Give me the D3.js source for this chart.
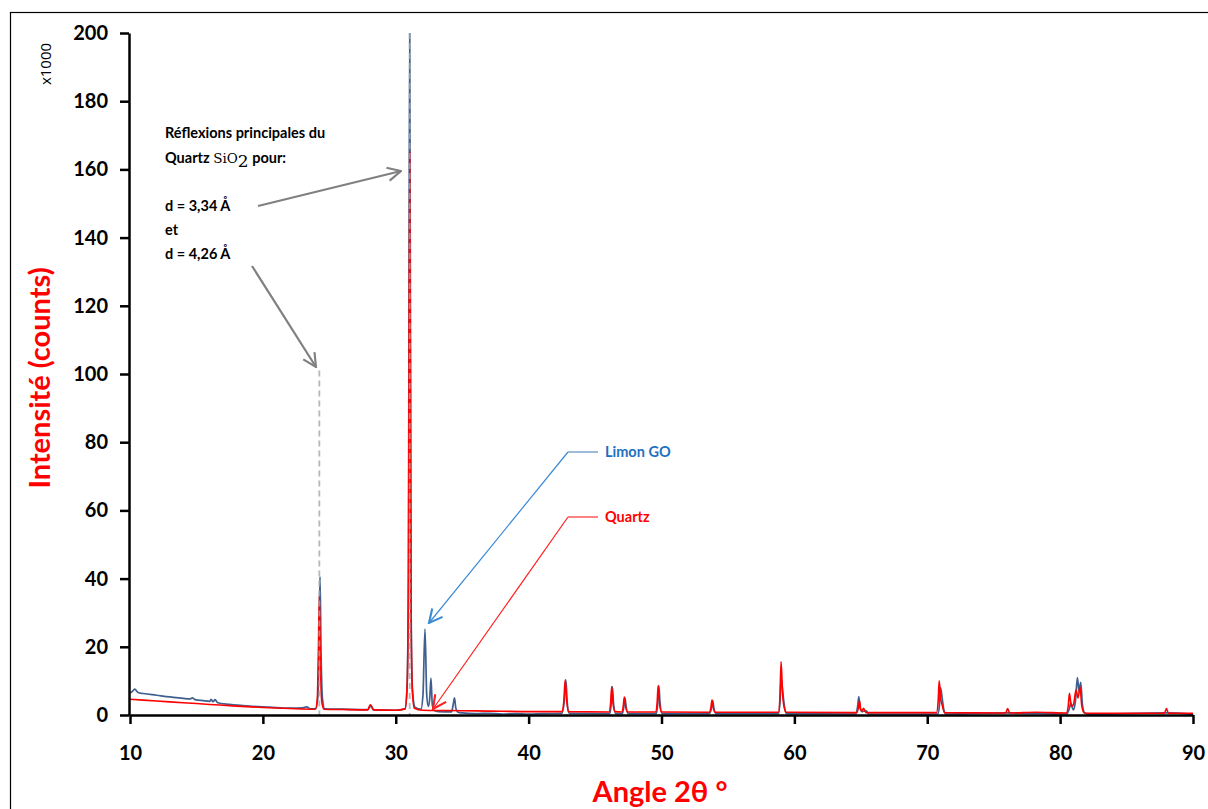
<!DOCTYPE html>
<html>
<head>
<meta charset="utf-8">
<script src="https://cdn.jsdelivr.net/npm/d3@7"></script>
<style>
  html, body { margin: 0; padding: 0; background: #ffffff; }
  svg { display: block; }
  text { font-family: Lato, "Open Sans", "DejaVu Sans", sans-serif; }
</style>
</head>
<body>
<svg id="chart" width="1208" height="809"></svg>
<script>
// ---------------- data (angle 2θ °, intensity ×1000 counts) ----------------
const xTicks = [10, 20, 30, 40, 50, 60, 70, 80, 90];
const yTicks = [0, 20, 40, 60, 80, 100, 120, 140, 160, 180, 200];
const seriesNames = ["Limon GO", "Quartz"];

const limonGO = [
  [10.0, 6.4], [10.2, 7.0], [10.35, 7.6], [10.6, 6.6], [11, 6.3], [12, 5.8], [13, 5.3], [14, 4.9],
  [14.5, 4.7], [14.7, 5.0], [14.9, 4.5], [15.5, 4.2], [16.0, 4.0], [16.1, 4.6], [16.25, 3.9],
  [16.4, 4.5], [16.6, 3.6], [17.5, 3.1], [19, 2.6], [20.5, 2.3], [22, 2.0], [23, 2.1], [23.3, 2.4],
  [23.6, 1.8], [24.0, 1.9], [24.15, 6], [24.22, 20], [24.3, 40.5], [24.38, 18], [24.48, 5],
  [24.65, 1.8], [26, 1.7], [27.9, 1.6], [28.05, 2.4], [28.15, 2.6], [28.3, 1.5], [30, 1.4],
  [30.7, 1.8], [30.85, 8], [30.95, 40], [31.05, 205], [31.15, 35], [31.25, 8], [31.45, 2.3],
  [31.9, 1.7], [32.05, 6], [32.2, 25.2], [32.33, 6], [32.45, 2.5], [32.56, 5], [32.65, 10.8],
  [32.75, 3], [32.9, 1.3], [33.2, 1.0], [34.2, 0.9], [34.32, 3], [34.42, 5], [34.52, 2],
  [34.65, 0.9], [35, 0.6], [36, 0.4], [37, 0.5], [38, 0.3], [39, 0.4], [40, 0.3], [41, 0.4],
  [42.5, 0.5], [42.68, 4], [42.8, 10.3], [42.9, 4], [43.05, 0.5],
  [46.1, 0.4], [46.22, 3.5], [46.3, 8.3], [46.4, 3], [46.55, 0.4],
  [47.05, 0.4], [47.17, 2.5], [47.25, 5.0], [47.35, 2], [47.5, 0.4],
  [49.6, 0.4], [49.72, 3.5], [49.8, 8.6], [49.9, 3], [50.05, 0.4],
  [53.6, 0.4], [53.76, 2], [53.85, 4.2], [53.95, 1.8], [54.1, 0.4],
  [58.8, 0.4], [58.92, 4], [59.0, 11], [59.12, 7], [59.25, 2.5], [59.4, 0.4],
  [64.6, 0.3], [64.76, 2.5], [64.85, 5.4], [64.95, 2], [65.1, 1], [65.4, 1.2], [65.6, 0.3],
  [70.8, 0.3], [70.92, 3], [71.0, 8], [71.12, 5], [71.25, 1.5], [71.4, 0.3], [76, 0.6],
  [80.5, 0.3], [80.7, 2], [80.8, 3.5], [81.0, 1.5], [81.15, 4], [81.3, 11], [81.42, 7],
  [81.55, 9.6], [81.68, 3], [81.85, 0.6], [82.2, 0.2], [88, 0.6], [90, 0.2]
];

const quartz = [
  [10, 4.6], [12, 4.1], [14, 3.6], [16, 3.1], [18, 2.6], [20, 2.2], [22, 1.9], [23.95, 1.7],
  [24.1, 5], [24.17, 17], [24.25, 35], [24.33, 15], [24.43, 4], [24.6, 1.7], [26, 1.6],
  [27.9, 1.5], [28.02, 2.6], [28.1, 3], [28.2, 2.4], [28.35, 1.5], [30, 1.4],
  [30.7, 1.8], [30.85, 8], [30.95, 35], [31.05, 165], [31.15, 30], [31.25, 7], [31.4, 2],
  [32, 1.4], [34, 1.3], [36, 1.2], [38, 1.1], [40, 1.0],
  [42.5, 1.0], [42.65, 4], [42.75, 10.3], [42.87, 4], [43.0, 1.0],
  [46.05, 0.9], [46.17, 3.5], [46.25, 8.3], [46.35, 3.5], [46.5, 1.0],
  [47.0, 0.9], [47.12, 2.5], [47.2, 5.3], [47.3, 2.5], [47.45, 0.9],
  [49.55, 0.9], [49.67, 3.5], [49.75, 8.6], [49.85, 3.5], [50.0, 0.9],
  [53.6, 0.8], [53.72, 2.2], [53.8, 4.4], [53.9, 2], [54.05, 0.8],
  [58.8, 0.8], [58.92, 6], [59.0, 15.6], [59.1, 7], [59.22, 2.5], [59.4, 0.8],
  [64.7, 0.7], [64.82, 2.2], [64.9, 4.2], [65.0, 1.5], [65.1, 1.2], [65.2, 2], [65.4, 0.7],
  [70.7, 0.7], [70.82, 4], [70.9, 10], [71.0, 5], [71.12, 3], [71.3, 0.7],
  [75.9, 0.6], [76.05, 1.9], [76.2, 0.6], [78.2, 0.8],
  [80.5, 0.6], [80.62, 3], [80.7, 6.4], [80.85, 2.5], [81.0, 3], [81.2, 7.3], [81.35, 5],
  [81.5, 8.2], [81.62, 3], [81.8, 0.7], [82, 0.5],
  [87.85, 0.5], [88.0, 1.9], [88.15, 0.5], [90, 0.5]
];

// annotated quartz reflections (2θ, top of guide line)
const quartzRefs = [[24.25, 101], [31.05, 200]];

// ---------------- drawing ----------------
const svg = d3.select("#chart");
const pLeft = 130, pRight = 1193, pTop = 33, pBottom = 715;

const x = d3.scaleLinear().domain([10, 90]).range([pLeft, pRight]);
const y = d3.scaleLinear().domain([0, 200]).range([pBottom, pTop]);

// outer frame
svg.append("rect").attr("x", 10.5).attr("y", 12.5).attr("width", 1300).attr("height", 900)
  .attr("fill", "none").attr("stroke", "#000").attr("stroke-width", 1.2);

const defs = svg.append("defs");
defs.append("clipPath").attr("id", "plotclip")
  .append("rect").attr("x", pLeft).attr("y", pTop).attr("width", pRight - pLeft).attr("height", pBottom - pTop + 1);

function addArrow(id, color, size) {
  defs.append("marker").attr("id", id)
    .attr("viewBox", "0 0 12 12").attr("refX", 11).attr("refY", 6)
    .attr("markerWidth", size).attr("markerHeight", size)
    .attr("markerUnits", "userSpaceOnUse").attr("orient", "auto")
    .append("path").attr("d", "M1,1 L11,6 L1,11")
    .attr("fill", "none").attr("stroke", color).attr("stroke-width", 1.6);
}
addArrow("arrGrey", "#808080", 16);
addArrow("arrBlue", "#3b8ad6", 16);
addArrow("arrRed", "#ff2020", 16);

const line = d3.line().x(d => x(d[0])).y(d => y(d[1])).curve(d3.curveMonotoneX);

const plot = svg.append("g").attr("clip-path", "url(#plotclip)");

plot.append("path").datum(limonGO).attr("d", line)
  .attr("fill", "none").attr("stroke", "#3f5f8f").attr("stroke-width", 1.7);
plot.append("path").datum(quartz).attr("d", line)
  .attr("fill", "none").attr("stroke", "#ff0000").attr("stroke-width", 1.6);

// dashed reflection guides
plot.selectAll("line.ref").data(quartzRefs).enter().append("line")
  .attr("class", "ref")
  .attr("x1", d => x(d[0])).attr("x2", d => x(d[0]))
  .attr("y1", d => y(d[1])).attr("y2", y(0))
  .attr("stroke", "#a6a6a6").attr("stroke-width", 1.8)
  .attr("stroke-dasharray", "6,4").attr("opacity", 0.8);

// axes
const yAxis = svg.append("g").attr("transform", `translate(${pLeft - 1},0)`)
  .call(d3.axisLeft(y).tickValues(yTicks).tickSize(9).tickPadding(12).tickSizeOuter(0));
const xAxis = svg.append("g").attr("transform", `translate(0,${pBottom})`)
  .call(d3.axisBottom(x).tickValues(xTicks).tickSize(9).tickPadding(22).tickSizeOuter(0));

[yAxis, xAxis].forEach(g => {
  g.select(".domain").attr("stroke", "#000").attr("stroke-width", 2.5);
  g.selectAll(".tick line").attr("stroke", "#000").attr("stroke-width", 2.5);
  g.selectAll(".tick text").attr("fill", "#000")
    .style("font-family", "Lato, 'Open Sans', sans-serif")
    .style("font-size", "20px").style("font-weight", "bold");
});

// axis titles
svg.append("text").attr("transform", "translate(50,378) rotate(-90)")
  .attr("text-anchor", "middle").attr("fill", "#ff0000")
  .style("font-size", "29px").style("font-weight", "bold")
  .text("Intensité (counts)");
svg.append("text").attr("x", 660).attr("y", 802)
  .attr("text-anchor", "middle").attr("fill", "#ff0000")
  .style("font-size", "29px").style("font-weight", "bold")
  .text("Angle 2θ °");
svg.append("text").attr("transform", "translate(51,64) rotate(-90)")
  .attr("text-anchor", "middle").attr("fill", "#000")
  .style("font-size", "15px").style("font-family", "'Open Sans', 'DejaVu Sans', sans-serif")
  .text("x1000");

// annotation text
const ann = svg.append("g").style("font-size", "14.5px").style("font-weight", "bold").attr("fill", "#000");
ann.append("text").attr("x", 165).attr("y", 138).text("Réflexions principales du");
const q = ann.append("text").attr("x", 165).attr("y", 163);
q.append("tspan").text("Quartz ");
q.append("tspan").style("font-family", "'DejaVu Serif', serif").style("font-weight", "normal").style("font-size", "13.5px").text("SiO");
q.append("tspan").attr("dy", 4).style("font-family", "'DejaVu Serif', serif").style("font-weight", "normal").style("font-size", "17px").text("2");
q.append("tspan").attr("dy", -4).text(" pour:");
ann.append("text").attr("x", 165).attr("y", 211).text("d = 3,34 Å");
ann.append("text").attr("x", 165).attr("y", 235).text("et");
ann.append("text").attr("x", 165).attr("y", 259).text("d = 4,26 Å");

// grey arrows
svg.append("line").attr("x1", 258).attr("y1", 206).attr("x2", 401).attr("y2", 171)
  .attr("stroke", "#808080").attr("stroke-width", 2.2).attr("marker-end", "url(#arrGrey)");
svg.append("line").attr("x1", 252).attr("y1", 266).attr("x2", 316).attr("y2", 367)
  .attr("stroke", "#808080").attr("stroke-width", 2.2).attr("marker-end", "url(#arrGrey)");

// series labels with leader lines
const labels = [
  { name: seriesNames[0], color: "#1f6fc0", lead: "#5b8fc4", diag: "#3b8ad6", marker: "arrBlue", ly: 452, tip: [429, 623] },
  { name: seriesNames[1], color: "#ff0000", lead: "#ff3030", diag: "#ff2020", marker: "arrRed", ly: 517, tip: [433, 709] }
];
labels.forEach(l => {
  svg.append("line").attr("x1", 568).attr("y1", l.ly).attr("x2", 598).attr("y2", l.ly)
    .attr("stroke", l.lead).attr("stroke-width", 1.2);
  svg.append("line").attr("x1", 568).attr("y1", l.ly).attr("x2", l.tip[0]).attr("y2", l.tip[1])
    .attr("stroke", l.diag).attr("stroke-width", 1.2).attr("marker-end", `url(#${l.marker})`);
  svg.append("text").attr("x", 605).attr("y", l.ly + 5).attr("fill", l.color)
    .style("font-size", "14.5px").style("font-weight", "bold").text(l.name);
});
</script>
</body>
</html>
